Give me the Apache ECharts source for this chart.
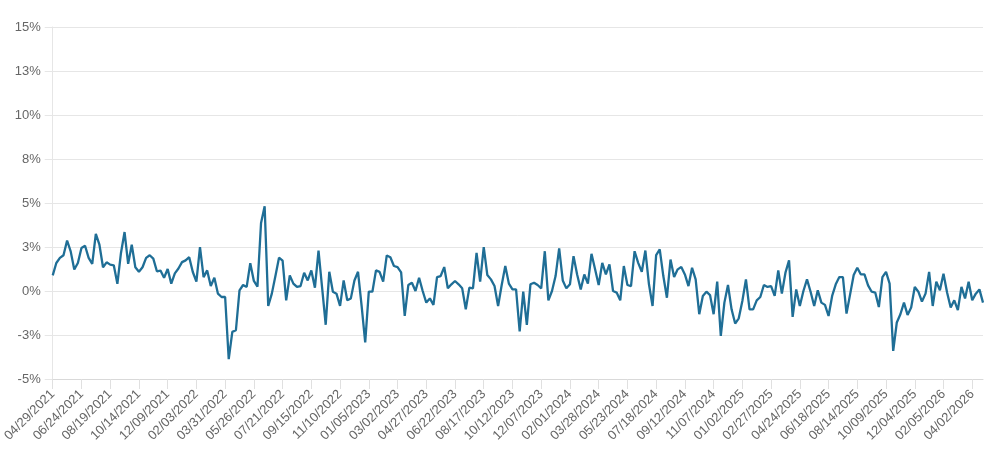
<!DOCTYPE html>
<html>
<head>
<meta charset="utf-8">
<script src="https://cdn.jsdelivr.net/npm/echarts@6/dist/echarts.min.js"></script>
<style>
  html, body { margin: 0; padding: 0; background: #fff; }
  #chart { width: 1004px; height: 465px; }
</style>
</head>
<body>
<div id="chart"></div>
<script>
// Weekly dates (Thursdays) starting 04/29/2021, with holiday adjustments seen in the labels
const startDate = '2021-04-29';
const pointCount = 260;
const shiftedDates = { '2025-06-19': '06/18/2025' };
const skippedDates = ['2026-01-01'];

// Y axis ticks (percent)
const yMin = -5;
const yMax = 15;
const yStep = 2.5;

// Series values (percent), one per week
const values = [
  0.89, 1.59, 1.88, 2.03, 2.87, 2.25, 1.22, 1.59, 2.44, 2.57,
  1.88, 1.54, 3.24, 2.63, 1.35, 1.63, 1.50, 1.46, 0.41, 2.16,
  3.35, 1.54, 2.63, 1.35, 1.09, 1.35, 1.88, 2.03, 1.84, 1.12,
  1.16, 0.75, 1.25, 0.42, 1.00, 1.28, 1.64, 1.74, 1.92, 1.08,
  0.53, 2.49, 0.79, 1.17, 0.28, 0.75, -0.15, -0.34, -0.34, -3.87,
  -2.32, -2.23, 0.04, 0.34, 0.23, 1.58, 0.57, 0.25, 3.87, 4.81,
  -0.85, -0.15, 0.85, 1.89, 1.72, -0.53, 0.89, 0.42, 0.23, 0.28,
  1.04, 0.60, 1.17, 0.19, 2.30, 0.19, -1.92, 1.09, -0.04, -0.15,
  -0.85, 0.60, -0.53, -0.42, 0.60, 1.09, -0.85, -2.92, -0.04, -0.04,
  1.17, 1.09, 0.53, 2.02, 1.92, 1.42, 1.36, 1.06, -1.42, 0.34,
  0.47, 0.00, 0.75, 0.00, -0.66, -0.42, -0.79, 0.79, 0.85, 1.36,
  0.15, 0.38, 0.57, 0.38, 0.15, -1.04, 0.19, 0.15, 2.17, 0.53,
  2.49, 0.91, 0.66, 0.28, -0.85, 0.34, 1.42, 0.42, 0.09, 0.09,
  -2.30, -0.04, -1.92, 0.38, 0.47, 0.34, 0.15, 2.26, -0.53, 0.00,
  0.85, 2.42, 0.60, 0.15, 0.38, 1.98, 0.94, 0.09, 0.94, 0.42,
  2.11, 1.23, 0.34, 1.60, 0.94, 1.51, 0.00, -0.09, -0.53, 1.42,
  0.34, 0.28, 2.26, 1.60, 1.09, 2.30, 0.38, -0.85, 2.04, 2.36,
  0.85, -0.38, 1.79, 0.79, 1.23, 1.36, 0.94, 0.28, 1.32, 0.66,
  -1.32, -0.28, -0.04, -0.23, -1.32, 0.53, -2.55, -0.66, 0.34, -1.04,
  -1.85, -1.55, -0.57, 0.66, -1.04, -1.04, -0.53, -0.34, 0.34, 0.23,
  0.28, -0.28, 1.17, -0.15, 1.04, 1.74, -1.47, 0.09, -0.85, 0.00,
  0.66, -0.04, -0.85, 0.04, -0.66, -0.79, -1.42, -0.28, 0.38, 0.79,
  0.79, -1.28, -0.19, 0.91, 1.32, 0.94, 0.94, 0.32, -0.04, -0.09,
  -0.91, 0.79, 1.09, 0.42, -3.40, -1.79, -1.32, -0.66, -1.36, -0.94,
  0.23, -0.04, -0.60, -0.15, 1.09, -0.85, 0.53, 0.04, 0.98, -0.09,
  -0.94, -0.53, -1.09, 0.23, -0.42, 0.53, -0.53, -0.15, 0.09, -0.66
];

function pad(n) { return n < 10 ? '0' + n : '' + n; }
function buildCategories() {
  const out = [];
  const d = new Date(startDate + 'T00:00:00Z');
  while (out.length < pointCount) {
    const iso = d.toISOString().slice(0, 10);
    if (skippedDates.indexOf(iso) < 0) {
      out.push(shiftedDates[iso] ||
        pad(d.getUTCMonth() + 1) + '/' + pad(d.getUTCDate()) + '/' + d.getUTCFullYear());
    }
    d.setUTCDate(d.getUTCDate() + 7);
  }
  return out;
}
const categories = buildCategories();

const chart = echarts.init(document.getElementById('chart'), null, { renderer: 'canvas' });
chart.setOption({
  animation: false,
  backgroundColor: '#ffffff',
  grid: { left: 52, right: 21, top: 27, bottom: 86, containLabel: false },
  xAxis: {
    type: 'category',
    data: categories,
    boundaryGap: false,
    axisLine: { show: true, onZero: false, lineStyle: { color: '#d9d9d9', width: 1 } },
    axisTick: { show: true, interval: 7, length: 10, lineStyle: { color: '#e0e0e0' } },
    axisLabel: {
      interval: 7, rotate: 45, margin: 13,
      color: '#666666', fontSize: 13, fontFamily: 'Liberation Sans, Arial, sans-serif'
    },
    splitLine: { show: false }
  },
  yAxis: {
    type: 'value',
    min: yMin, max: yMax, interval: yStep,
    axisLine: { show: true, lineStyle: { color: '#e6e6e6' } },
    axisTick: { show: true, length: 8, lineStyle: { color: '#e6e6e6' } },
    axisLabel: {
      margin: 12,
      color: '#666666', fontSize: 13, fontFamily: 'Liberation Sans, Arial, sans-serif',
      formatter: function (v) { return v.toFixed(0) + '%'; }
    },
    splitLine: { show: true, lineStyle: { color: '#e6e6e6', width: 1 } }
  },
  series: [{
    type: 'line',
    data: values,
    showSymbol: false,
    symbol: 'none',
    lineStyle: { color: '#1f6e96', width: 2.3 },
    itemStyle: { color: '#1f6e96' }
  }]
});
</script>
</body>
</html>
